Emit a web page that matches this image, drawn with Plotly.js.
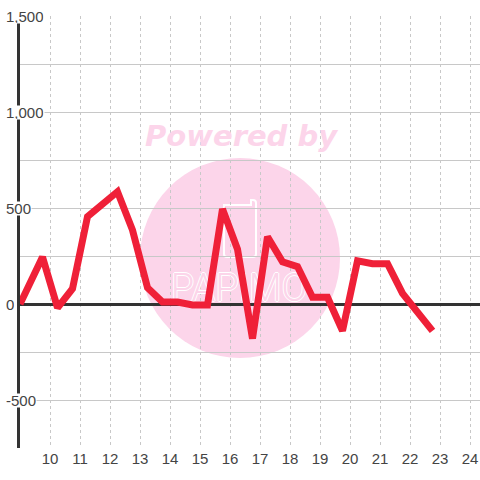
<!DOCTYPE html>
<html>
<head>
<meta charset="utf-8">
<script src="https://cdn.plot.ly/plotly-3.0.1.min.js"></script>
<style>html,body{margin:0;padding:0;background:#fff;}#chart{width:480px;height:480px;}</style>
</head>
<body>
<div id="chart"></div>
<script>
// Data
const xValues = [9, 9.75, 10.25, 10.75, 11.25, 11.75, 12.25, 12.75, 13.25, 13.75, 14.25, 14.75, 15.25, 15.75, 16.25, 16.75, 17.25, 17.75, 18.25, 18.75, 19.25, 19.75, 20.25, 20.75, 21.25, 21.75, 22.25, 22.75];
const yValues = [0, 245, -20, 80, 455, 520, 585, 385, 85, 10, 10, -5, -5, 495, 285, -180, 350, 220, 195, 35, 35, -140, 225, 210, 210, 55, -45, -140];
const xTickVals = [10, 11, 12, 13, 14, 15, 16, 17, 18, 19, 20, 21, 22, 23, 24];
const yGridVals = [-750, -500, -250, 0, 250, 500, 750, 1000, 1250, 1500];
const yLabelVals = [-500, 0, 500, 1000, 1500];
const yLabelText = ['-500', '0', '500', '1,000', '1,500'];
const logoText = ['PAPIMO'];

const pink = '#fcd5ea';

const px = p => (p - 20) / 460;
const py = p => (448 - p) / 432;

const logoTrace = {
  x: [9 + (239 - 20) / 30], y: [(304 - 291) / 0.192],
  type: 'scatter', mode: 'text', text: logoText,
  textposition: 'middle center', hoverinfo: 'skip', cliponaxis: false,
  textfont: {family: 'Roboto, sans-serif', size: 38, color: pink, weight: 300,
    shadow: '1px 0 0 #fff, -1px 0 0 #fff, 0 1px 0 #fff, 0 -1px 0 #fff'}
};

const trace = {
  x: xValues,
  y: yValues,
  type: 'scatter',
  mode: 'lines',
  line: {color: '#ef2038', width: 7},
  hoverinfo: 'skip'
};

const annotations = yLabelVals.map((v, i) => ({
  xref: 'paper', yref: 'y',
  x: -15 / 460, y: v,
  xanchor: 'left', yanchor: 'middle',
  text: yLabelText[i],
  showarrow: false,
  bgcolor: '#ffffff',
  borderpad: 0,
  height: 13,
  font: {family: 'Liberation Sans, Arial, sans-serif', size: 15, color: '#444'}
}));

annotations.push({
  xref: 'paper', yref: 'paper',
  x: px(241), y: py(136),
  xanchor: 'center', yanchor: 'middle',
  text: 'Powered by', showarrow: false,
  font: {family: 'DejaVu Sans, sans-serif', size: 29, color: pink, weight: 'bold', style: 'italic'}
});

const shapes = [
  {type: 'circle', xref: 'paper', yref: 'paper', layer: 'below',
   x0: px(140), x1: px(340), y0: py(358), y1: py(158),
   fillcolor: pink, line: {width: 0}},
  {type: 'path', xref: 'paper', yref: 'paper', layer: 'below',
   path: `M ${px(224)} ${py(205)} L ${px(224)} ${py(254)} Q ${px(224)} ${py(257)} ${px(227)} ${py(257)} L ${px(253)} ${py(257)} Q ${px(256)} ${py(257)} ${px(256)} ${py(254)} L ${px(256)} ${py(203)} Q ${px(256)} ${py(200)} ${px(253)} ${py(200)} L ${px(251)} ${py(200)} L ${px(251)} ${py(205)} Z`,
   line: {color: '#ffffff', width: 2}}
];

const layout = {
  width: 480, height: 480,
  margin: {l: 20, r: 0, t: 16, b: 32, pad: 0},
  paper_bgcolor: '#ffffff',
  plot_bgcolor: 'rgba(0,0,0,0)',
  showlegend: false,
  xaxis: {
    range: [9, 24.3333], fixedrange: true,
    tickmode: 'array', tickvals: xTickVals, ticktext: xTickVals.map(String),
    showgrid: true, gridcolor: '#c8c8c8', gridwidth: 1, griddash: '3px,3px',
    zeroline: false, showline: false, ticks: '',
    tickfont: {family: 'Liberation Sans, Arial, sans-serif', size: 15, color: '#444'}
  },
  yaxis: {
    range: [-750, 1500], fixedrange: true,
    tickmode: 'array', tickvals: yGridVals, showticklabels: false,
    showgrid: true, gridcolor: '#c8c8c8', gridwidth: 1,
    zeroline: true, zerolinecolor: '#333333', zerolinewidth: 3,
    showline: true, linecolor: '#333333', linewidth: 3, ticks: ''
  },
  shapes: shapes,
  annotations: annotations
};

Plotly.newPlot('chart', [logoTrace, trace], layout, {staticPlot: true, displayModeBar: false});
</script>
</body>
</html>
